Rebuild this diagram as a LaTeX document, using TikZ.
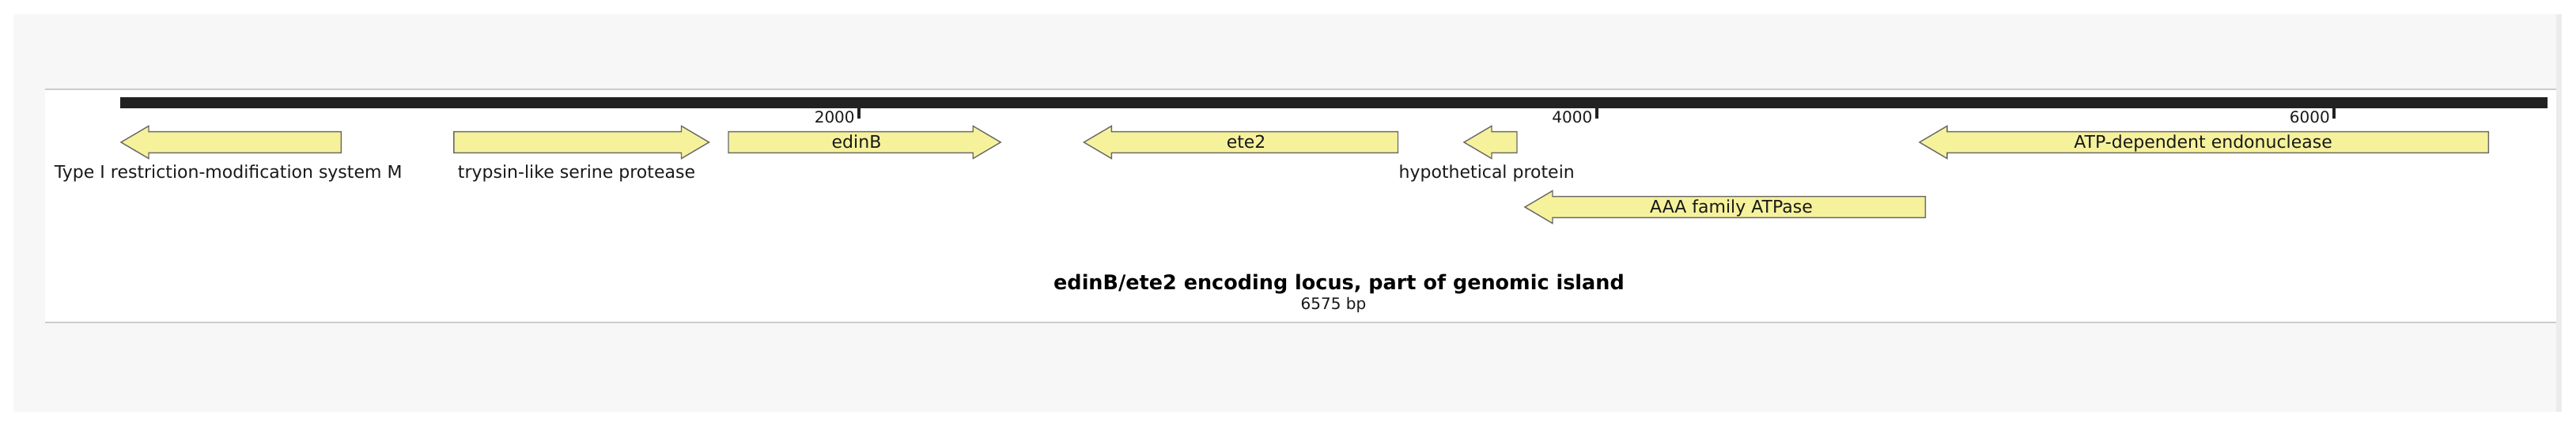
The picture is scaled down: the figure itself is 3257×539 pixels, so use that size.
\documentclass[tikz,border=0pt]{standalone}
\usepackage{fontspec}
\setmainfont{DejaVu Sans}
\usepackage{tikz}
\definecolor{genefill}{RGB}{246,242,156}
\definecolor{geneline}{RGB}{105,105,105}
\definecolor{pagegrey}{RGB}{247,247,247}
\definecolor{edgegrey}{RGB}{236,236,236}
\definecolor{rulegrey}{RGB}{204,204,204}
\definecolor{barblack}{RGB}{34,34,34}
\tikzset{gene/.style={fill=genefill,draw=geneline,line width=0.7pt,line join=miter}}
\tikzset{glabel/.style={font=\fontsize{11}{13}\selectfont,text=black!90,inner sep=0pt}}
\tikzset{scalelbl/.style={font=\fontsize{10}{12}\selectfont,text=black!90,inner sep=0pt,anchor=base east}}
% gene arrows: forward (left end, tip, centre) and reverse (tip, right end, centre)
\def\fwdgene#1#2#3{\draw[gene] (#1,#3-13.4) -- (#2-35,#3-13.4) -- (#2-35,#3-20.6) -- (#2,#3)
  -- (#2-35,#3+20.6) -- (#2-35,#3+13.4) -- (#1,#3+13.4) -- cycle;}
\def\revgene#1#2#3{\draw[gene] (#2,#3-13.4) -- (#1+35,#3-13.4) -- (#1+35,#3-20.6) -- (#1,#3)
  -- (#1+35,#3+20.6) -- (#1+35,#3+13.4) -- (#2,#3+13.4) -- cycle;}

\begin{document}
\begin{tikzpicture}[x=0.5pt,y=-0.5pt]
  \useasboundingbox (0,0) rectangle (3257,539);
  % page and panel
  \fill[pagegrey] (16.7,17.7) rectangle (3232,520.7);
  \fill[edgegrey] (3232,17.7) rectangle (3239,520.7);
  \fill[white] (56.7,112.7) rectangle (3232,408.5);
  \draw[rulegrey,line width=1pt] (56.7,112.7) -- (3232,112.7);
  \draw[rulegrey,line width=1pt] (56.7,408.5) -- (3232,408.5);

  % sequence bar and scale
  \fill[barblack] (152,122.7) rectangle (3221,137.3);
  \foreach \bp in {2000,4000,6000}{
    \draw[barblack,line width=2pt] ({153.5+0.4663*\bp},137) -- ({153.5+0.4663*\bp},150.2);
    \node[scalelbl] (tick\bp) at ({148.5+0.4663*\bp},155.5) {\bp};
  }

  % genes
  \revgene{153}{431.4}{180}
  \fwdgene{573.8}{896.5}{180}
  \fwdgene{921}{1265.2}{180}
  \revgene{1370.4}{1767.5}{180}
  \revgene{1851}{1918}{180}
  \revgene{2426.9}{3146.3}{180}
  \revgene{1928}{2434.3}{262}

  \node[glabel,anchor=base] (typeI) at (288.7,226) {Type I restriction-modification system M};
  \node[glabel,anchor=base] (trypsin) at (729,226) {trypsin-like serine protease};
  \node[glabel,anchor=base] (edinB) at (1083,188) {edinB};
  \node[glabel,anchor=base] (ete2) at (1575.6,188) {ete2};
  \node[glabel,anchor=base] (hyp) at (1879.7,226) {hypothetical protein};
  \node[glabel,anchor=base] (atp) at (2785.5,188) {ATP-dependent endonuclease};
  \node[glabel,anchor=base] (aaa) at (2189,270) {AAA family ATPase};

  % caption
  \node[font=\bfseries\fontsize{12.75}{15}\selectfont,anchor=base,inner sep=0pt] (title) at (1693,367)
    {edinB/ete2 encoding locus, part of genomic island};
  \node[font=\fontsize{10}{12}\selectfont,anchor=base,inner sep=0pt,text=black!90] (len) at (1686,392) {6575 bp};
\end{tikzpicture}
\end{document}
